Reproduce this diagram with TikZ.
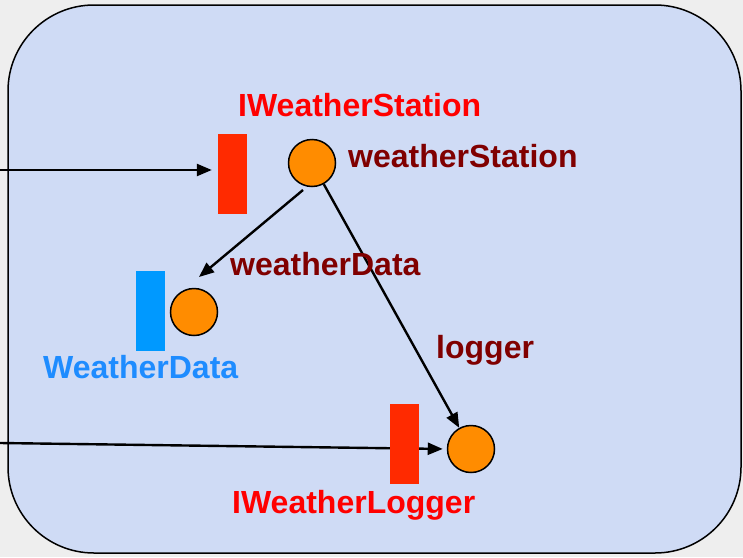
\documentclass[tikz,border=0pt]{standalone}
\usepackage{fontspec}
\setmainfont{Liberation Sans}
\usetikzlibrary{arrows.meta}
\definecolor{pagebg}{HTML}{EEEEEE}
\definecolor{boxfill}{HTML}{CFDBF5}
\definecolor{ifred}{HTML}{FF2A00}
\definecolor{ifblue}{HTML}{0099FF}
\definecolor{txtred}{HTML}{FF0000}
\definecolor{txtblue}{HTML}{1E8CFF}
\definecolor{txtdark}{HTML}{800000}
\definecolor{compfill}{HTML}{FF8C00}
\pgfdeclarelayer{bg}
\pgfdeclarelayer{wires}
\pgfsetlayers{bg,wires,main}
\tikzset{
  comp/.style={circle, draw=black, line width=1.5pt, fill=compfill, minimum size=47pt, inner sep=0pt},
  iface/.style={rectangle, fill=#1, minimum width=29pt, minimum height=80pt, inner sep=0pt},
  lbl/.style={anchor=base west, inner sep=0pt, font=\fontsize{32}{32}\selectfont\bfseries, text=#1},
  wire/.style={line width=2.4pt, -{Triangle[length=15pt,width=12pt]}}
}
\begin{document}
\begin{tikzpicture}[x=1pt, y=-1pt]
\useasboundingbox (0,0) rectangle (743,557);
\begin{pgfonlayer}{bg}
  \fill[pagebg] (0,0) rectangle (743,557);
  \draw[fill=boxfill, line width=1.5pt, rounded corners=86pt] (8,5) rectangle (741,553);
\end{pgfonlayer}

% components
\node[comp] (ws) at (312,163) {};
\node[comp] (wd) at (194,312) {};
\node[comp] (lg) at (471,449) {};

% interfaces
\node[iface=ifred] (iws) at (232.5,173.5) {};
\node[iface=ifblue] (iwd) at (150,311) {};
\node[iface=ifred] (ilg) at (404.5,444) {};

% labels
\node[lbl=txtred] (tiws) at (238,116) {IWeatherStation};
\node[lbl=txtdark] (tws) at (348,167) {weatherStation};
\node[lbl=txtdark] (twd) at (230,275) {weatherData};
\node[lbl=txtblue] (tiwd) at (43,378) {WeatherData};
\node[lbl=txtdark] (tlg) at (436,358) {logger};
\node[lbl=txtred] (tilg) at (232,513) {IWeatherLogger};

% wire end points
\coordinate (in1) at (0,170);
\coordinate (in2) at (0,443);
\coordinate (wdtip) at (199,277);
\coordinate (wsout) at (303,190);

\begin{pgfonlayer}{wires}
  \draw[wire, shorten >=6pt] (in1) -- (iws.west |- in1);
  \draw[wire, shorten >=4pt] (in2) -- (lg.west);
  \draw[wire] (wsout) -- (wdtip);
  \draw[wire] (ws) -- (lg);
\end{pgfonlayer}
\end{tikzpicture}
\end{document}
